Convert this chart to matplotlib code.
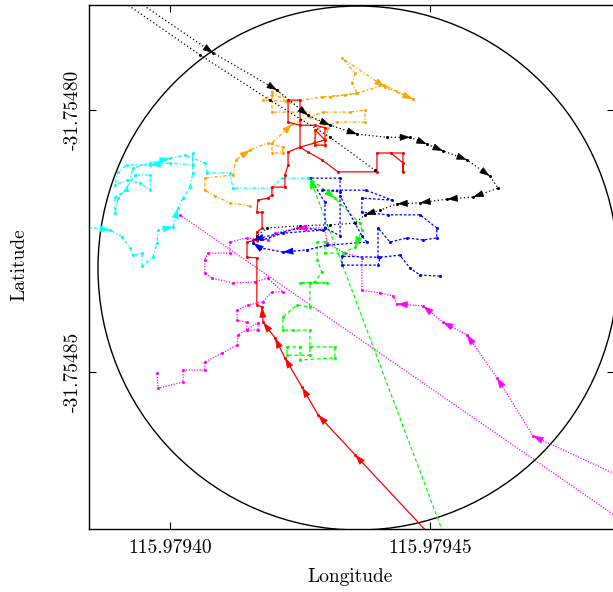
import numpy as np
import matplotlib
matplotlib.use("Agg")
import matplotlib.pyplot as plt
from matplotlib.patches import Circle

plt.rcParams['font.family'] = 'cmr10'
plt.rcParams['axes.formatter.use_mathtext'] = True
plt.rcParams['axes.unicode_minus'] = False

# reference point and scale: all tracks are offsets in micro-degrees
LON0 = 115.97940
LAT0 = -31.75480
UDEG = 1e-6

# geofence circle
fence_dlon, fence_dlat, fence_r = 36.15, -30.15, 50.0

# black (two legs, dotted)
black_a_dlon = [-10.6, 8.3, 20.6, 26.5, 30.8, 36.0, 41.7, 46.2, 49.4, 52.5, 57.1, 61.5, 63.1,
                58.3, 53.3, 48.1, 43.7, 40.4, 37.5, 35.6, 30.8, 25.0, 18.7, 16.7]
black_a_dlat = [23.7, 10.9, 3.8, -1.0, -2.9, -4.6, -5.2, -5.2, -6.5, -7.8, -9.5, -12.6, -14.9,
                -16.6, -17.0, -17.7, -17.9, -19.1, -20.0, -21.6, -21.9, -22.1, -22.5, -24.0]
black_a_heads = [1, 2, 3, 4, 5, 7, 8, 9, 10, 11, 13, 14, 15, 16, 18]
black_b_dlon = [-13.7, 5.8, 19.2, 30.8, 39.4]
black_b_dlat = [23.9, 10.5, 1.9, -5.2, -11.5]

# orange (dash-dot)
orange_dlon = [15.4, 11.5, 8.7, 6.7, 6.7, 12.1, 12.7, 15.4, 18.8, 21.7, 21.7, 19.6, 19.6, 23.5,
               26.9, 29.4, 34.6, 37.5, 37.5, 32.1, 28.5, 27.7, 29.8, 30.4, 26.0, 19.6, 19.6, 17.9,
               22.3, 19.6, 19.2, 23.1, 29.2, 33.7, 36.0, 35.0, 35.6, 33.1, 41.3, 46.7, 41.2, 36.0, 30.8]
orange_dlat = [-18.3, -17.7, -16.4, -15.3, -13.0, -12.4, -9.5, -7.6, -6.3, -7.1, -8.2, -8.2, -6.3, -2.7,
               -1.3, -0.4, -0.4, 0.0, -2.3, -2.3, -3.4, -6.1, -6.9, -3.4, -0.4, -0.4, 2.9, 1.9,
               1.7, 3.4, 4.8, 1.5, 2.5, 2.9, 3.2, 5.2, 7.1, 9.9, 4.4, 2.1, 4.8, 3.2, 2.5]
orange_heads = [7, 13, 38, 39]

# red (solid)
red_dlon = [50.0, 35.6, 28.5, 25.4, 22.1, 20.2, 17.9, 17.7, 16.7, 16.7, 14.8, 14.8, 16.7, 16.7,
            17.7, 17.7, 16.7, 16.9, 18.8, 19.6, 19.6, 22.1, 22.1, 22.7, 22.7, 25.0, 25.0, 25.0,
            22.7, 22.7, 25.0, 27.9, 29.8, 29.8, 27.9, 27.9, 29.8, 25.0, 26.5, 29.2, 32.3, 39.8,
            39.8, 44.8, 44.8, 44.8, 42.5]
red_dlat = [-81.1, -65.8, -58.2, -52.9, -47.3, -43.5, -40.5, -37.6, -37.2, -28.2, -28.1, -25.2, -24.8, -23.3,
            -22.5, -19.5, -19.5, -17.2, -16.8, -16.2, -14.7, -14.7, -12.4, -10.5, -8.0, -7.1, -1.9, 1.9,
            1.9, -2.3, -2.9, -2.9, -3.4, -6.7, -6.7, -3.8, -5.7, -7.1, -8.0, -9.5, -11.8, -11.8,
            -8.2, -8.2, -11.8, -10.1, -8.2]
red_heads = [1, 2, 3, 4, 5, 6, 7]

# cyan (dash-dot)
cyan_dlon = [-16.3, -11.5, -9.2, -7.7, -7.1, -5.4, -5.4, -3.3, -2.5, -2.3, 0.6, 1.5, 2.5, 3.8, 4.4,
             4.4, 4.4, 0.0, -3.8, -8.3, -10.0, -10.6, -8.3, -5.8, -3.8, -3.8, -6.7, -8.7, -10.0,
             -10.6, -10.6, -8.3, -7.1, -3.8, 0.0, 2.9, 6.7, 7.1, 11.5, 12.1, 19.6, 21.5, 26.5]
cyan_dlat = [-22.3, -22.9, -24.2, -26.3, -27.7, -27.3, -29.8, -28.1, -25.4, -22.9, -22.3, -18.7, -16.8,
             -14.7, -12.0, -8.2, -10.5, -10.1, -10.5, -10.5, -11.8, -14.3, -13.4, -13.9, -15.3, -12.4,
             -12.4, -15.3, -16.8, -19.7, -16.6, -15.3, -11.1, -10.1, -9.2, -8.6, -10.1, -12.0, -12.0,
             -14.9, -14.9, -13.0, -13.0]
cyan_heads = [1, 10, 11, 18, 34]

# blue (dashed)
blue_dlon = [51.9, 48.1, 46.2, 44.2, 40.4, 40.0, 33.1, 33.1, 40.0, 40.0, 42.3, 45.6, 48.7, 51.3,
             51.3, 48.1, 41.9, 36.9, 36.9, 42.7, 37.7, 29.2, 32.7, 32.7, 26.9, 29.8, 29.8, 32.7,
             32.7, 36.9, 37.9, 30.2, 26.3, 21.7, 17.3, 16.0, 21.7, 29.4, 25.0, 16.0]
blue_dlat = [-31.7, -31.5, -30.2, -27.7, -28.1, -29.6, -29.6, -27.9, -28.1, -22.5, -25.2, -24.4, -24.8,
             -24.4, -22.5, -20.0, -20.0, -19.5, -16.8, -17.2, -15.3, -15.3, -15.6, -13.0, -13.0, -17.6,
             -22.5, -24.0, -16.4, -24.0, -25.2, -25.8, -26.7, -27.1, -26.3, -25.4, -23.5, -22.9, -22.5,
             -24.8]
blue_heads = [33, 35, 39]

# green (dashed)
green_dlon = [52.9, 26.9, 31.7, 36.5, 36.9, 35.6, 33.3, 29.8, 29.8, 28.3, 28.3, 29.2, 27.9, 25.0,
              30.2, 26.9, 26.9, 24.4, 21.7, 21.7, 23.7, 26.9, 26.9, 22.5, 22.5, 25.0, 25.0, 31.7,
              31.7, 26.9]
green_dlat = [-81.7, -13.0, -16.8, -21.6, -22.9, -26.1, -27.3, -27.3, -25.2, -25.2, -28.6, -30.9, -32.8,
              -33.0, -33.0, -33.0, -37.6, -37.2, -39.5, -42.0, -42.0, -42.0, -46.8, -46.8, -45.2, -45.2,
              -47.7, -47.3, -45.2, -45.2]
green_heads = [1, 2, 5]

# magenta (dotted)
magenta_dlon = [88.5, 69.8, 62.9, 57.1, 52.5, 48.7, 43.7, 42.9, 40.4, 36.9, 36.9, 33.7, 30.2, 29.8,
                24.4, 20.2, 18.8, 14.8, 11.5, 11.5, 7.3, 6.7, 6.7, 8.1, 12.1, 16.3, 18.8, 21.7, 19.6,
                17.9, 15.0, 12.9, 12.9, 14.8, 14.8, 16.9, 16.9, 13.1, 12.9, 10.0, 6.7, 6.7, 2.5, 2.5,
                -2.3, -2.5]
magenta_dlat = [-70.8, -62.2, -51.1, -42.9, -40.5, -37.4, -37.0, -35.5, -34.9, -34.4, -28.2, -27.3, -25.4,
                -22.5, -22.5, -23.5, -24.8, -24.4, -25.2, -27.3, -27.3, -28.6, -31.1, -32.1, -33.0, -32.8,
                -32.1, -34.7, -34.7, -36.6, -37.2, -38.2, -40.1, -40.5, -42.0, -42.0, -40.6, -42.9, -44.8,
                -46.4, -48.1, -49.6, -49.6, -51.9, -53.1, -50.2]
magenta_heads = [1, 2, 3, 4, 5, 6, 14]
magenta_jump_dlon = [1.9, 88.5]
magenta_jump_dlat = [-20.0, -79.4]


def to_deg(dlon, dlat):
    return LON0 + np.array(dlon) * UDEG, LAT0 + np.array(dlat) * UDEG


fig = plt.figure(figsize=(6.13, 5.92), dpi=100)
ax = fig.add_axes([0.1452, 0.1064, 0.8564, 0.8851])


def draw(dlon, dlat, color, ls, heads=(), lw=0.9):
    x, y = to_deg(dlon, dlat)
    ax.plot(x, y, color=color, ls=ls, lw=lw, marker='o', ms=2.2, mew=0)
    for i in heads:
        # tiny shaft so only the head shows at the end of segment i-1 -> i
        xs = x[i] - 0.03 * (x[i] - x[i - 1])
        ys = y[i] - 0.03 * (y[i] - y[i - 1])
        ax.annotate('', xy=(x[i], y[i]), xytext=(xs, ys),
                    arrowprops=dict(arrowstyle='-|>,head_length=0.65,head_width=0.22',
                                    color=color, lw=0.5, shrinkA=0, shrinkB=0))


cx, cy = to_deg(fence_dlon, fence_dlat)
ax.add_patch(Circle((cx, cy), fence_r * UDEG, fill=False, ec='black', lw=1.0))

draw(magenta_jump_dlon, magenta_jump_dlat, '#ff00ff', (0, (1, 1.2)))
draw(magenta_dlon, magenta_dlat, '#ff00ff', (0, (1, 1.2)), magenta_heads)
draw(green_dlon, green_dlat, '#00ff00', (0, (3, 2)), green_heads)
draw(blue_dlon, blue_dlat, '#0000ff', (0, (2, 1.5)), blue_heads)
draw(cyan_dlon, cyan_dlat, '#00ffff', (0, (3, 1.5, 1, 1.5)), cyan_heads)
draw(orange_dlon, orange_dlat, '#ffa500', (0, (3, 1.5, 1, 1.5)), orange_heads)
draw(red_dlon, red_dlat, '#ff0000', '-', red_heads)
draw(black_b_dlon, black_b_dlat, 'black', (0, (1, 2)))
draw(black_a_dlon, black_a_dlat, 'black', (0, (1, 2)), black_a_heads)

ax.set_xlim(LON0 - 15.58 * UDEG, LON0 + 85.38 * UDEG)
ax.set_ylim(LAT0 - 79.96 * UDEG, LAT0 + 20.04 * UDEG)

ax.set_xticks([LON0, LON0 + 50 * UDEG])
ax.set_xticklabels(['115.97940', '115.97945'])
ax.set_yticks([LAT0 - 50 * UDEG, LAT0])
ax.set_yticklabels(['-31.75485', '-31.75480'], rotation=90, va='center')
ax.tick_params(direction='in', length=5, width=0.8, top=True, right=True, labelsize=14)
ax.tick_params(axis='x', pad=7)
ax.tick_params(axis='y', pad=5)
for s in ax.spines.values():
    s.set_linewidth(1.0)

fig.text(350 / 613, 1 - 577 / 592, 'Longitude', ha='center', va='center', fontsize=14)
fig.text(19 / 613, 1 - 265 / 592, 'Latitude', ha='center', va='center', rotation=90, fontsize=14)

fig.savefig('out.png', dpi=100)
